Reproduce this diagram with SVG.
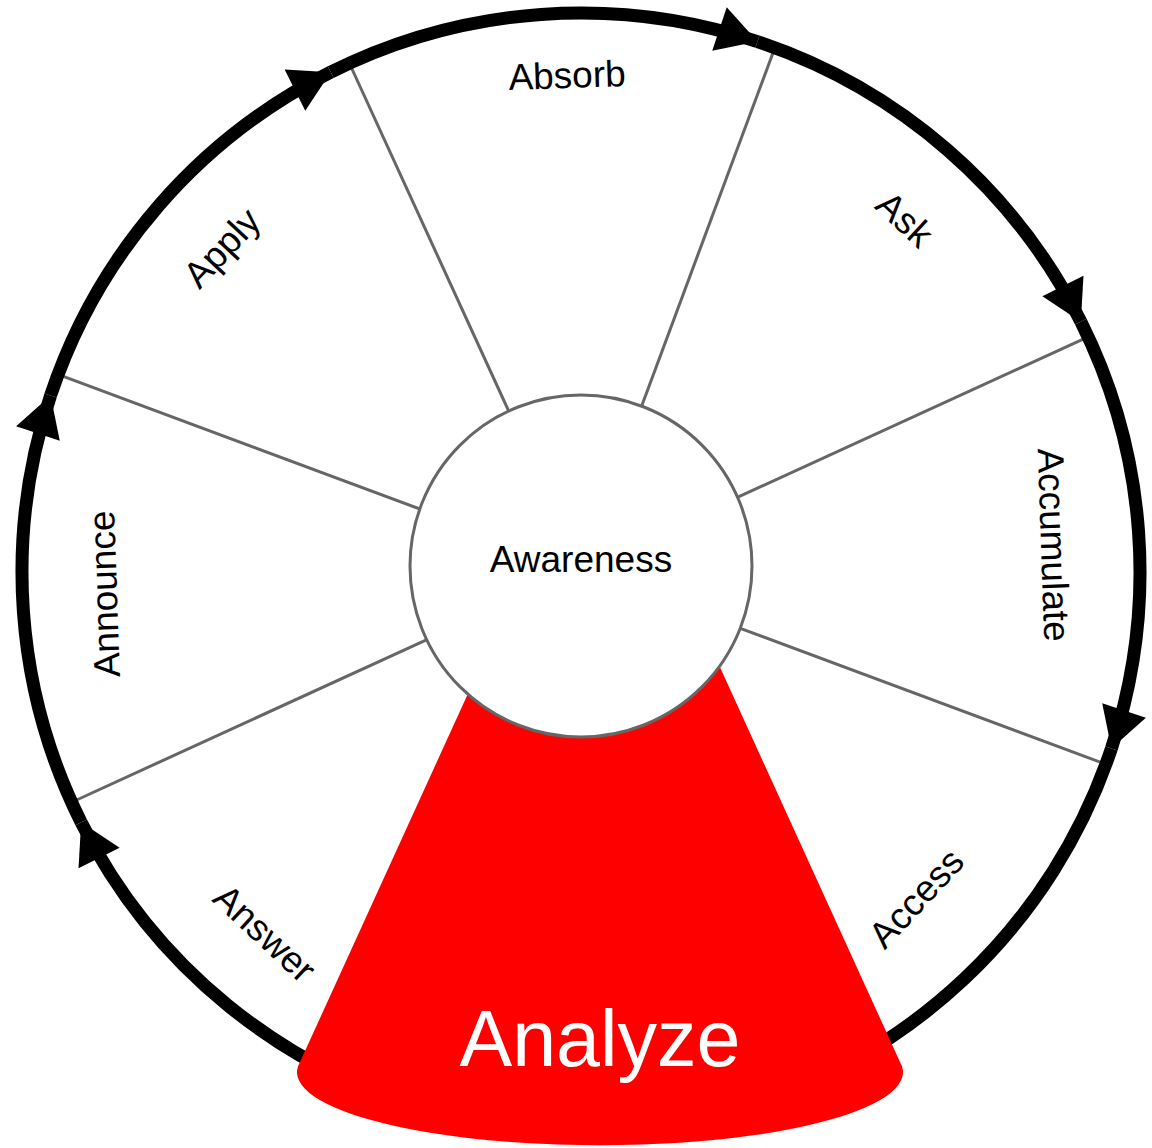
<svg xmlns="http://www.w3.org/2000/svg" width="1152" height="1148" viewBox="0 0 1152 1148">
<style>
.div{stroke:#666;stroke-width:3;fill:none}
.ring{stroke:#000;stroke-width:13;fill:none}
.lbl{font-family:"Liberation Sans",Arial,sans-serif;font-size:37px;fill:#000;text-anchor:middle}
</style>
<defs>
<marker id="ah" markerUnits="userSpaceOnUse" markerWidth="42" markerHeight="48" refX="40" refY="23" orient="auto" overflow="visible">
<path d="M0,0 L40,23 L0,46 Z" fill="#000"/>
</marker>
</defs>
<rect width="1152" height="1148" fill="#fff"/>
<g id="dividers">
<line class="div" x1="510.2" y1="414.4" x2="349.5" y2="63.5"/>
<line class="div" x1="640.3" y1="409.7" x2="774.8" y2="47.9"/>
<line class="div" x1="735.6" y1="498.2" x2="1086.5" y2="337.6"/>
<line class="div" x1="740.3" y1="628.3" x2="1102.1" y2="762.8"/>
<line class="div" x1="426.4" y1="639.8" x2="75.5" y2="800.5"/>
<line class="div" x1="421.7" y1="509.7" x2="59.9" y2="375.2"/>
</g>
<g id="connectors">
<path class="ring" marker-end="url(#ah)" d="M50.58,395.55 A559,559 0 0 1 330.70,72.17"/>
<path class="ring" marker-end="url(#ah)" d="M330.70,72.17 A559,559 0 0 1 757.45,41.58"/>
<path class="ring" marker-end="url(#ah)" d="M757.45,41.58 A559,559 0 0 1 1080.83,321.70"/>
<path class="ring" marker-end="url(#ah)" d="M1080.83,321.70 A559,559 0 0 1 1111.42,748.45"/>
<path class="ring" d="M1111.42,748.45 A559,559 0 0 1 725.68,1111.95"/>
<path class="ring" marker-end="url(#ah)" d="M436.32,1111.95 A559,559 0 0 1 81.17,822.30"/>
<path class="ring" marker-end="url(#ah)" d="M81.17,822.30 A559,559 0 0 1 50.58,395.55"/>
</g>
<g id="analyze">
<path d="M600,404 L300,1062 A303,73 0 1 0 900,1062 Z" fill="#ff0000"/>
<text x="600" y="1066" font-family="Liberation Sans, Arial, sans-serif" font-size="79" fill="#fff" text-anchor="middle">Analyze</text>
</g>
<g id="awareness">
<circle cx="581" cy="566" r="171" fill="#fff" stroke="#666" stroke-width="3"/>
<text class="lbl" x="581" y="572">Awareness</text>
</g>
<g id="absorb"><text class="lbl" transform="translate(567,75) rotate(-2)" x="0" y="13">Absorb</text></g>
<g id="ask"><text class="lbl" transform="translate(905,219) rotate(43)" x="0" y="13">Ask</text></g>
<g id="accumulate"><text class="lbl" transform="translate(1054,545) rotate(88)" x="0" y="13">Accumulate</text></g>
<g id="access"><text class="lbl" transform="translate(916,898) rotate(-47)" x="0" y="13">Access</text></g>
<g id="answer"><text class="lbl" transform="translate(265,933) rotate(43)" x="0" y="13">Answer</text></g>
<g id="announce"><text class="lbl" transform="translate(104,594) rotate(-92)" x="0" y="13">Announce</text></g>
<g id="apply"><text class="lbl" transform="translate(223,249) rotate(-47)" x="0" y="11">Apply</text></g>
</svg>
